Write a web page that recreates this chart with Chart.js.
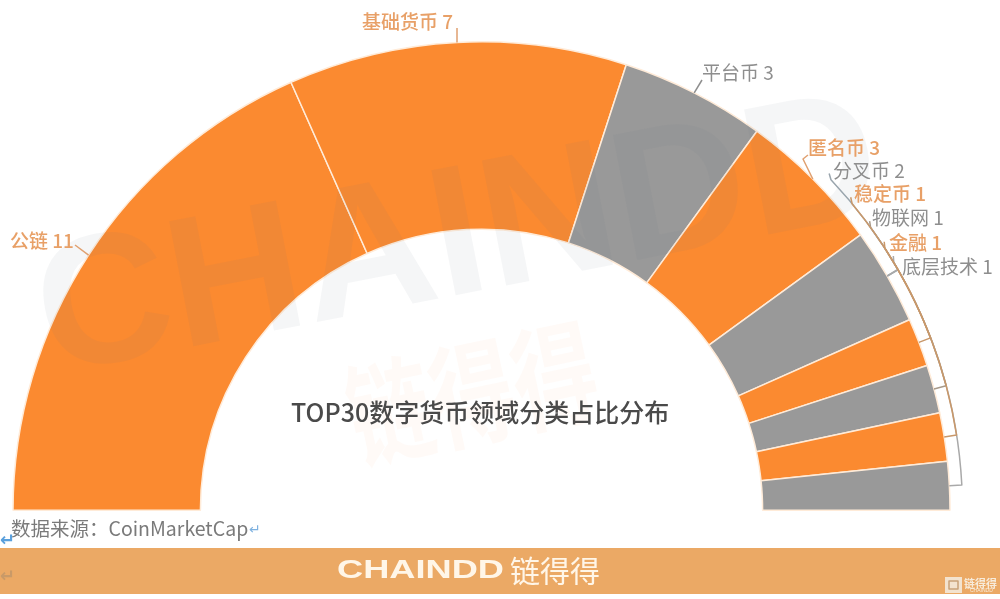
<!DOCTYPE html>
<html lang="zh"><head><meta charset="utf-8">
<style>html,body{margin:0;padding:0;background:#fff;overflow:hidden}canvas{display:block}</style>
<script src="https://cdn.jsdelivr.net/npm/chart.js@4"></script></head>
<body><canvas id="c" width="1000" height="599"></canvas>
<script>
const categories = ['公链','基础货币','平台币','匿名币','分叉币','稳定币','物联网','金融','底层技术'];
const values = [11,7,3,3,2,1,1,1,1];
const ORANGE='#FB8A30', GRAY='#999999';
const sliceColors=[ORANGE,ORANGE,GRAY,ORANGE,GRAY,ORANGE,GRAY,ORANGE,GRAY];
const FONT='"Noto Sans CJK SC","Noto Sans",sans-serif';
const LABEL_OR='#E8A067', LABEL_GR='#8E8E8E';
// label anchor (left x, middle y) and the angle (deg from the right end) where the outer leader arc stops
const labelAnchors=[[10,241],[362,22],[702,73],[808,148],[833,171],[854,194],[872,218],[889,243],[902,267]];
const leaderEnds=[[75,245],[457,28],[702,80],[808,155],[835,178],null,null,null,null];
const arcEndDeg={4:43.4,5:39.6,6:36,7:33,8:31};
const leaderColor={4:'#9aa5ad',5:'#C9986A',6:'#A89A8A',7:'#C9986A',8:'#A9A9A9'};

const overlay={id:'overlay',
 beforeDatasetsDraw(ch){
  const c=ch.ctx;c.save();
  c.fillStyle='#EBA965';c.fillRect(0,548,1000,46);
  c.restore();
 },
 afterDatasetsDraw(ch){
  const c=ch.ctx,meta=ch.getDatasetMeta(0);
  const arcs=meta.data,cx=arcs[0].x,cy=arcs[0].y,R=arcs[0].outerRadius;
  c.save();
  // watermarks
  c.save();c.translate(50,374);c.rotate(-11*Math.PI/180);
  c.fillStyle='rgba(110,120,140,0.065)';c.font='bold 185px "Liberation Sans",sans-serif';
  c.textBaseline='alphabetic';c.fillText('CHAINDD',0,0);c.restore();
  c.save();c.translate(358,462);c.rotate(-12*Math.PI/180);c.scale(1,1.35);
  c.fillStyle='rgba(250,160,90,0.05)';c.font='bold 84px '+FONT;
  c.textBaseline='alphabetic';c.fillText('链得得',0,0);c.restore();
  // leaders
  c.lineWidth=1.5;c.lineJoin='round';
  const order=[8,6,4,7,5];
  order.forEach(i=>{
   const a=arcs[i],mid=(a.startAngle+a.endAngle)/2,r2=R+12.5;
   const end=-arcEndDeg[i]*Math.PI/180;
   c.strokeStyle=leaderColor[i];c.beginPath();
   c.moveTo(cx+R*Math.cos(mid),cy+R*Math.sin(mid));
   c.lineTo(cx+r2*Math.cos(mid),cy+r2*Math.sin(mid));
   c.arc(cx,cy,r2,mid,end,true);
   c.lineTo(cx+(r2+3)*Math.cos(end-0.012),cy+(r2+3)*Math.sin(end-0.012));
   c.stroke();
  });
  [0,1,2,3,4].forEach(i=>{
   const a=arcs[i],mid=(a.startAngle+a.endAngle)/2;
   if(i===4){
    c.strokeStyle='#A9A9A9';c.beginPath();
    c.moveTo(cx+R*Math.cos(mid),cy+R*Math.sin(mid));
    c.lineTo(897,270);c.stroke();
    return;
   }
   c.strokeStyle=i===2?'#8E8E8E':'#E0A070';c.beginPath();
   c.moveTo(cx+R*Math.cos(mid),cy+R*Math.sin(mid));
   if(i===3)c.lineTo(803,159);
   c.lineTo(leaderEnds[i][0],leaderEnds[i][1]);c.stroke();
  });
  // labels
  c.textBaseline='middle';c.textAlign='left';
  categories.forEach((n,i)=>{
   c.fillStyle=sliceColors[i]===ORANGE?LABEL_OR:LABEL_GR;
   c.font=(sliceColors[i]===ORANGE?'500 ':'400 ')+'19px '+FONT;
   c.fillText(n+' '+values[i],labelAnchors[i][0],labelAnchors[i][1]);
  });
  // title
  c.fillStyle='#4A4A4A';c.font='500 25px '+FONT;
  c.fillText('TOP30数字货币领域分类占比分布',291,412);
  // source
  c.fillStyle='#7A7A7A';c.font='19.5px '+FONT;
  c.fillText('数据来源：CoinMarketCap',11,529);
  c.fillStyle='#7FB2E0';c.font='14px "DejaVu Sans"';c.fillText('↵',249,530);
  c.fillStyle='#5AA0DC';c.font='bold 18px "DejaVu Sans"';c.fillText('↵',0,541);
  c.fillStyle='#C99A68';c.font='bold 18px "DejaVu Sans"';c.fillText('↵',0,577);
  // band logo
  c.fillStyle='#FFF6E8';
  c.save();c.translate(337,571);c.scale(1.42,1);c.font='bold 25.5px "Liberation Sans",sans-serif';c.fillText('CHAINDD',0,0);c.restore();
  c.font='400 30px '+FONT;c.fillText('链得得',510,571);
  c.fillStyle='#F3E3CF';c.fillRect(945,577,17,16);
  c.strokeStyle='#C9A27A';c.lineWidth=1.5;c.strokeRect(949,581,9,8);
  c.fillStyle='#F7EBDA';c.font='bold 11px '+FONT;c.fillText('链得得',964,584);
  c.font='5px "Liberation Sans"';c.fillText('CHAINDD',970,591);
  c.restore();
 }};

new Chart(document.getElementById('c'),{
 type:'doughnut',
 data:{labels:categories,datasets:[{data:values,backgroundColor:sliceColors,borderColor:'#FFEBD8',borderWidth:1.5,hoverOffset:0}]},
 options:{responsive:false,animation:false,rotation:-90,circumference:180,cutout:'60%',
  layout:{padding:{left:11,right:48,top:41,bottom:88}},
  plugins:{legend:{display:false},tooltip:{enabled:false}}},
 plugins:[overlay]
});
</script></body></html>
